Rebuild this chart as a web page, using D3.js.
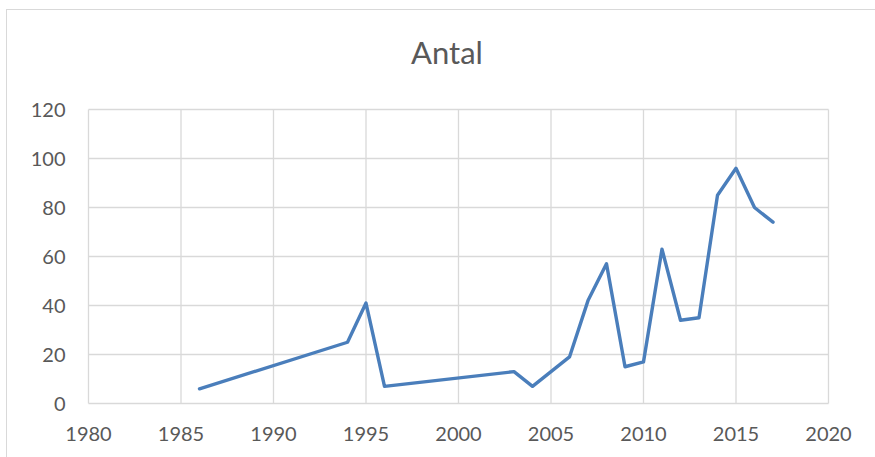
<!DOCTYPE html>
<html><head><meta charset="utf-8">
<script src="https://cdn.jsdelivr.net/npm/d3@7"></script>
<style>body{margin:0;background:#fff}svg{display:block}</style>
</head><body>
<svg id="c" width="875" height="457"></svg>
<script>
const years = [1986,1994,1995,1996,2003,2004,2006,2007,2008,2009,2010,2011,2012,2013,2014,2015,2016,2017];
const values = [6,25,41,7,13,7,19,42,57,15,17,63,34,35,85,96,80,74];
const xTicks = [1980,1985,1990,1995,2000,2005,2010,2015,2020];
const yTicks = [0,20,40,60,80,100,120];
const title = "Antal";

const svg = d3.select("#c");
const font = "Lato, 'Open Sans', sans-serif";
svg.append("rect").attr("x",6.5).attr("y",9.5).attr("width",880).attr("height",460)
  .attr("fill","#fff").attr("stroke","#d9d9d9");
const x = d3.scaleLinear().domain([1980,2020]).range([88.5,828.5]);
const y = d3.scaleLinear().domain([0,120]).range([403.5,109.5]);

const g = svg.append("g");
g.selectAll("line.h").data(yTicks).join("line").attr("class","h")
  .attr("x1",x(1980)).attr("x2",x(2020)).attr("y1",d=>y(d)).attr("y2",d=>y(d))
  .attr("stroke","#d9d9d9").attr("stroke-width",1.3);
g.selectAll("line.v").data(xTicks).join("line").attr("class","v")
  .attr("x1",d=>x(d)).attr("x2",d=>x(d)).attr("y1",y(0)).attr("y2",y(120))
  .attr("stroke","#d9d9d9").attr("stroke-width",1.3);

g.selectAll("text.yl").data(yTicks).join("text").attr("class","yl")
  .attr("x",x(1980)-23).attr("y",d=>y(d)).attr("dy","0.36em").attr("text-anchor","end")
  .attr("font-family",font).attr("font-size",20).attr("fill","#595959").text(d=>d);
g.selectAll("text.xl").data(xTicks).join("text").attr("class","xl")
  .attr("x",d=>x(d)).attr("y",y(0)+37.5).attr("text-anchor","middle")
  .attr("font-family",font).attr("font-size",20).attr("fill","#595959").text(d=>d);

const pts = years.map((yr,i)=>[yr,values[i]]);
g.append("path").datum(pts)
  .attr("d", d3.line().x(d=>x(d[0])).y(d=>y(d[1])))
  .attr("fill","none").attr("stroke","#4a7ebb").attr("stroke-width",3.4)
  .attr("stroke-linejoin","round").attr("stroke-linecap","round");

svg.append("text").attr("x",447).attr("y",63.5).attr("text-anchor","middle")
  .attr("font-family",font).attr("font-size",31).attr("fill","#595959").text(title);
</script>
</body></html>
